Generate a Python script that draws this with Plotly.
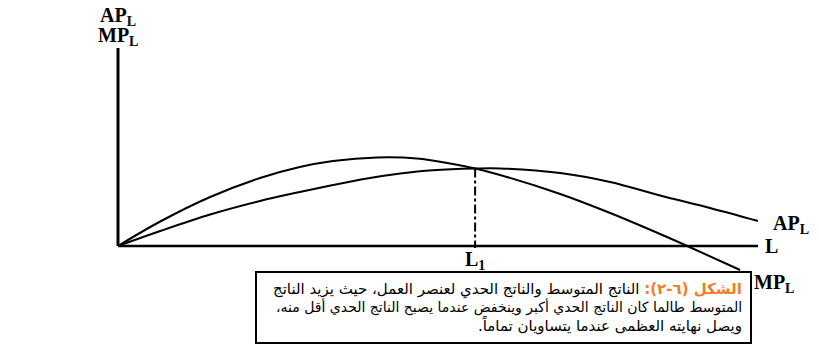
import plotly.graph_objects as go

# labour units (L) and product values
L_mp = [0, 0.66, 1.44, 2.22, 2.84, 3.36, 4.05, 4.67, 5.19, 5.58, 5.97, 6.91, 7.69, 8.47, 8.86, 9.72]
MP = [0, 2.45, 4.9, 6.8, 7.9, 8.5, 8.85, 8.75, 8.25, 7.75, 7.1, 5.2, 3.3, 1.2, 0.1, -2.4]

L_ap = [0, 0.66, 1.44, 2.22, 2.84, 3.36, 3.89, 4.41, 4.92, 5.58, 5.97, 6.91, 7.69, 8.47, 9.25, 10.0]
AP = [0, 1.5, 3.15, 4.5, 5.4, 6.1, 6.75, 7.25, 7.58, 7.75, 7.76, 7.3, 6.4, 5.05, 3.8, 2.5]

L1 = 5.58
AP_L1 = 7.75
L_MAX = 10.0
Y_MAX = 19.8

caption_head = "الشكل (٦-٢):"
caption_lines = [
    "الناتج المتوسط والناتج الحدي لعنصر العمل، حيث يزيد الناتج",
    "المتوسط طالما كان الناتج الحدي أكبر وينخفض عندما يصبح الناتج الحدي أقل منه،",
    "ويصل نهايته العظمى عندما يتساويان تماماً.",
]

RLM = "\u200f"

fig = go.Figure()
line = dict(color="black", width=2)

# axes
fig.add_trace(go.Scatter(x=[0, 0], y=[0, Y_MAX], mode="lines", line=dict(color="black", width=3)))
fig.add_trace(go.Scatter(x=[0, L_MAX], y=[0, 0], mode="lines", line=dict(color="black", width=2.5)))

# curves
fig.add_trace(go.Scatter(x=L_mp, y=MP, mode="lines", line_shape="spline", line=line))
fig.add_trace(go.Scatter(x=L_ap, y=AP, mode="lines", line_shape="spline", line=line))

# L1 guide
fig.add_trace(go.Scatter(x=[L1, L1], y=[AP_L1, -0.2], mode="lines",
                         line=dict(color="black", width=2, dash="dashdot")))

lab = dict(family="Liberation Serif", size=20, color="black")
fig.add_annotation(x=0, y=23.0, text="<b>AP<sub>L</sub></b>", showarrow=False, font=lab)
fig.add_annotation(x=0, y=21.0, text="<b>MP<sub>L</sub></b>", showarrow=False, font=lab)
fig.add_annotation(x=10.2, y=2.2, text="<b>AP<sub>L</sub></b>", showarrow=False, font=lab, xanchor="left")
fig.add_annotation(x=10.08, y=0, text="<b>L</b>", showarrow=False, font=lab, xanchor="left")
fig.add_annotation(x=9.9, y=-3.7, text="<b>MP<sub>L</sub></b>", showarrow=False, font=lab, xanchor="left")
fig.add_annotation(x=L1, y=-1.4, text="<b>L<sub>1</sub></b>", showarrow=False, font=lab)

# caption box
fig.add_shape(type="rect", xref="paper", yref="paper",
              x0=256/819, x1=751/819, y0=1-343/345, y1=1-272/345,
              line=dict(color="black", width=2), fillcolor="white")

ys = [289, 307, 325]
sizes = [15, 14, 15]
texts = [
    RLM + "<span style='color:#f07d2b'><b>" + caption_head + "</b></span> " + caption_lines[0] + RLM,
    RLM + caption_lines[1] + RLM,
    RLM + caption_lines[2] + RLM,
]
for t, yy, s in zip(texts, ys, sizes):
    fig.add_annotation(xref="paper", yref="paper", x=744/819, y=1-yy/345,
                       text=t, showarrow=False,
                       font=dict(family="DejaVu Sans", size=s, color="black"),
                       xanchor="right", yanchor="middle")

fig.update_layout(
    width=819, height=345,
    margin=dict(l=0, r=0, t=0, b=0),
    paper_bgcolor="white", plot_bgcolor="white",
    showlegend=False,
    xaxis=dict(range=[-118/64, (819-118)/64], visible=False),
    yaxis=dict(range=[-(345-246)/10, 246/10], visible=False),
)

fig.write_html("out.html", config={"displayModeBar": False},
               post_script="document.body.style.margin='0px';")
